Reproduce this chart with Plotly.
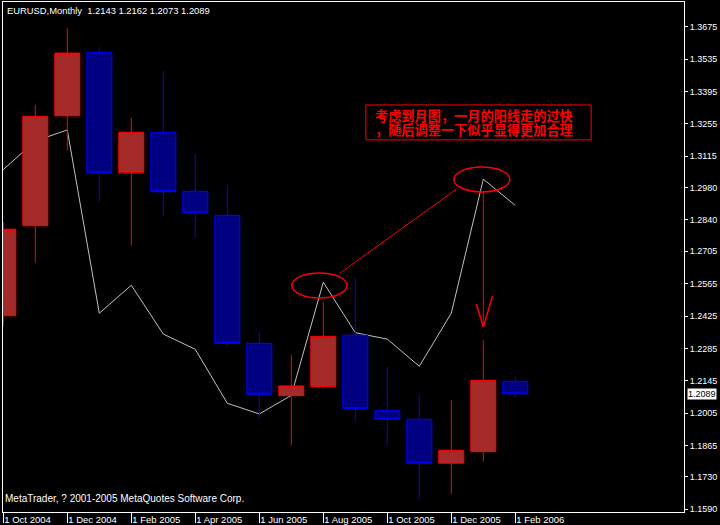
import plotly.graph_objects as go

# ---------------- data ----------------
months = ["Oct 2004", "Nov 2004", "Dec 2004", "Jan 2005", "Feb 2005", "Mar 2005",
          "Apr 2005", "May 2005", "Jun 2005", "Jul 2005", "Aug 2005", "Sep 2005",
          "Oct 2005", "Nov 2005", "Dec 2005", "Jan 2006", "Feb 2006"]
open_p = [1.2426, 1.2815, 1.3290, 1.3564, 1.3044, 1.3219, 1.2964, 1.2860, 1.2307,
          1.2081, 1.2120, 1.2342, 1.2018, 1.1979, 1.1789, 1.1839, 1.2143]
high_p = [1.2830, 1.3337, 1.3669, 1.3587, 1.3281, 1.3484, 1.3125, 1.2991, 1.2356,
          1.2257, 1.2486, 1.2589, 1.2205, 1.2083, 1.2062, 1.2321, 1.2162]
low_p = [1.2380, 1.2655, 1.3139, 1.2919, 1.2729, 1.2854, 1.2763, 1.2293, 1.1981,
         1.1867, 1.2115, 1.1973, 1.1869, 1.1634, 1.1657, 1.1796, 1.2073]
close_p = [1.2800, 1.3288, 1.3561, 1.3044, 1.3219, 1.2962, 1.2871, 1.2307, 1.2087,
           1.2123, 1.2337, 1.2026, 1.1979, 1.1789, 1.1845, 1.2147, 1.2089]
line_vals = [1.3058, 1.3181, 1.3229, 1.2437, 1.2558, 1.2347, 1.2281, 1.2048, 1.2002,
             1.2082, 1.2571, 1.2353, 1.2325, 1.2208, 1.2437, 1.3016, 1.2903]

x_tick_idx = [0, 2, 4, 6, 8, 10, 12, 14, 16]
x_tick_text = ["1 Oct 2004", "1 Dec 2004", "1 Feb 2005", "1 Apr 2005", "1 Jun 2005",
               "1 Aug 2005", "1 Oct 2005", "1 Dec 2005", "1 Feb 2006"]
price_ticks = [1.3675, 1.3535, 1.3395, 1.3255, 1.3115, 1.2980, 1.2840, 1.2705,
               1.2565, 1.2425, 1.2285, 1.2145, 1.2005, 1.1865, 1.1730, 1.1590]
price_text = ["%.4f" % v for v in price_ticks]

title_text = "EURUSD,Monthly\u00a0\u00a01.2143 1.2162 1.2073 1.2089"
footer_text = "MetaTrader, ? 2001-2005 MetaQuotes Software Corp."
note_line1 = "考虑到月图，一月的阳线走的过快"
note_line2 = "，随后调整一下似乎显得更加合理"
last_price = 1.2089

x_idx = list(range(len(months)))
y_range = [1.15783, 1.37817]
x_range = [-0.0094, 21.2719]

RED = "#ff0000"
FONT = "Liberation Sans"

fig = go.Figure()
fig.add_trace(go.Scatter(x=x_idx, y=line_vals, mode="lines",
                         line=dict(color="#c0c0c0", width=1),
                         xaxis="x", yaxis="y", showlegend=False, hoverinfo="skip"))
fig.add_trace(go.Candlestick(x=x_idx, open=open_p, high=high_p, low=low_p, close=close_p,
                             xaxis="x", yaxis="y2", whiskerwidth=0, showlegend=False,
                             increasing=dict(line=dict(color=RED, width=1), fillcolor="#a52a2a"),
                             decreasing=dict(line=dict(color="#0000ff", width=1), fillcolor="#000080")))

fig.update_layout(
    width=720, height=525,
    margin=dict(l=3, r=36, t=2, b=13, autoexpand=False),
    paper_bgcolor="#000000", plot_bgcolor="#000000",
    font=dict(family=FONT, size=10, color="#ffffff"),
    boxgap=0.22, boxgroupgap=0,
    showlegend=False,
    xaxis=dict(range=x_range, tickmode="array", tickvals=x_tick_idx, ticktext=x_tick_text,
               ticks="outside", ticklen=10, tickcolor="#ffffff", tickwidth=1,
               ticklabelposition="outside right", ticklabelstandoff=-1,
               tickfont=dict(family=FONT, size=9.5, color="#ffffff"),
               automargin=False,
               showgrid=False, zeroline=False, showline=True, linecolor="#ffffff",
               linewidth=1, mirror=True, rangeslider=dict(visible=False), fixedrange=True),
    yaxis=dict(range=y_range, side="right", tickmode="array", tickvals=price_ticks,
               ticktext=price_text, ticks="outside", ticklen=3, tickcolor="#ffffff",
               tickfont=dict(family=FONT, size=9, color="#ffffff"),
               automargin=False,
               showgrid=False, zeroline=False, showline=True, linecolor="#ffffff",
               linewidth=1, mirror=True),
    yaxis2=dict(range=y_range, overlaying="y", side="right", showticklabels=False,
                automargin=False,
                showgrid=False, zeroline=False, showline=False, ticks=""),
)

shapes = [
    dict(type="rect", xref="x", yref="y", x0=11.33, x1=18.37, y0=1.3186, y1=1.3337,
         line=dict(color=RED, width=1)),
    dict(type="circle", xref="x", yref="y", x0=9.02, x1=10.74, y0=1.2503, y1=1.2611,
         line=dict(color=RED, width=1.5)),
    dict(type="circle", xref="x", yref="y", x0=14.08, x1=15.83, y0=1.2961, y1=1.3069,
         line=dict(color=RED, width=1.5)),
    dict(type="line", xref="x", yref="y", x0=10.52, y0=1.2610, x1=14.16, y1=1.2973,
         line=dict(color=RED, width=1)),
    dict(type="line", xref="x", yref="y", x0=15.0, y0=1.2961, x1=15.0, y1=1.2378,
         line=dict(color=RED, width=1)),
    dict(type="line", xref="x", yref="y", x0=14.78, y0=1.2477, x1=15.0, y1=1.2378,
         line=dict(color=RED, width=1.5)),
    dict(type="line", xref="x", yref="y", x0=15.29, y0=1.2512, x1=15.0, y1=1.2378,
         line=dict(color=RED, width=1.5)),
]
fig.update_layout(shapes=shapes)

annotations = [
    dict(text=title_text, xref="paper", yref="paper", x=0, y=1, xanchor="left",
         yanchor="top", xshift=2, yshift=-1, showarrow=False, bgcolor="#000000",
         font=dict(family=FONT, size=9.4, color="#ffffff")),
    dict(text=footer_text, xref="paper", yref="paper", x=0, y=0, xanchor="left",
         yanchor="bottom", xshift=0, yshift=6, showarrow=False,
         font=dict(family=FONT, size=10, color="#ffffff")),
    dict(text=note_line1, xref="x", yref="y", x=11.55, y=1.3290, xanchor="left",
         yanchor="middle", showarrow=False,
         font=dict(family="Noto Sans CJK SC", size=13.2, color=RED, weight="bold")),
    dict(text=note_line2, xref="x", yref="y", x=11.55, y=1.3232, xanchor="left",
         yanchor="middle", showarrow=False,
         font=dict(family="Noto Sans CJK SC", size=13.2, color=RED, weight="bold")),
    dict(text="%.4f" % last_price, xref="paper", yref="y", x=1, y=last_price,
         xanchor="left", yanchor="middle", xshift=3, showarrow=False,
         bgcolor="#ffffff", borderpad=0,
         font=dict(family=FONT, size=9, color="#000000")),
]
fig.update_layout(annotations=annotations)

fig.write_html("out.html", config={"displayModeBar": False},
               post_script="document.body.style.margin='0px';document.body.style.background='#000000';")
